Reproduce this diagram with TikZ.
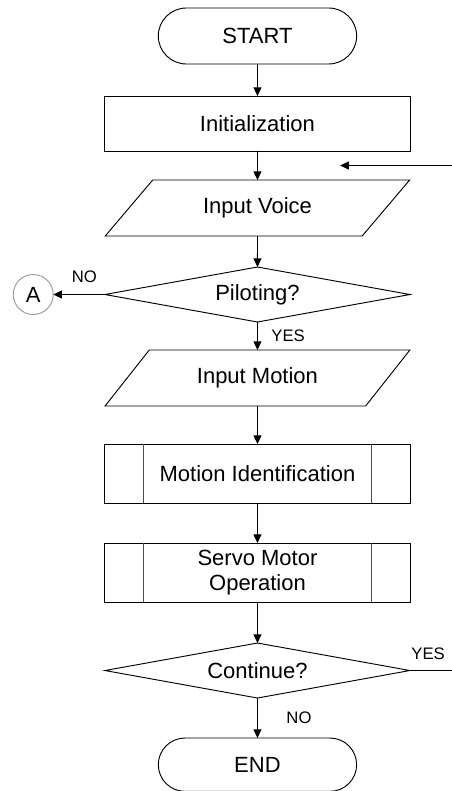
\documentclass[tikz,border=0pt]{standalone}
\usepackage{fontspec}
\setmainfont{Liberation Sans}
\usetikzlibrary{
    arrows.meta,
    calc,
    positioning,
    shapes.geometric,
    shapes.misc
}
\tikzset{
    every picture/.style = {
        > = {Triangle[length = 6.5pt, width = 6pt]},
        line width = 0.7pt
    },
    every node/.style = {
        inner sep = 1pt,
        outer sep = 0pt,
        align = center,
        font = \fontsize{16.5}{19}\selectfont
    },
    terminal/.style = {
        draw, rounded rectangle,
        minimum width = 150.75pt,
        minimum height = 42pt
    },
    process/.style = {
        draw, rectangle,
        minimum width = 228.75pt,
        minimum height = 41.25pt
    },
    io/.style = {
        draw, trapezium,
        trapezium left angle = 42.5,
        trapezium right angle = 137.5,
        trapezium stretches = true,
        minimum width = 228.75pt,
        minimum height = 42pt
    },
    decision/.style = {
        draw, diamond, aspect = 5.5,
        inner sep = 0pt,
        minimum width = 228.75pt,
        minimum height = 41.25pt
    },
    subroutine/.style = {
        process,
        minimum height = 44.25pt
    },
    connector/.style = {
        draw = black!40, circle,
        minimum size = 30pt
    },
    answer/.style = {
        font = \fontsize{12.5}{14}\selectfont
    }
}

\begin{document}
\begin{tikzpicture}
    \useasboundingbox (-193.1pt, 27pt) rectangle (145.9pt, -566.25pt);

    % main column
    \node[terminal] (start) {START};
    \node[process, below = 24pt of start] (init) {Initialization};
    \node[io, below = 21.75pt of init] (voice) {Input Voice};
    \node[decision, below = 23.25pt of voice] (pilot) {Piloting?};
    \node[io, below = 21pt of pilot] (motion) {Input Motion};
    \node[subroutine, below = 28.5pt of motion] (ident) {Motion Identification};
    \node[subroutine, below = 30pt of ident] (servo) {Servo Motor\\Operation};
    \node[decision, below = 30.75pt of servo] (cont) {Continue?};
    \node[terminal, minimum height = 40pt, below = 30pt of cont] (end) {END};

    % off-page connector
    \node[connector, left = 38.8pt of pilot] (a) {A};

    % loose ends on the right
    \coordinate (loop tip) at ($(init.south)!0.5!(voice.north) + (62pt, 0)$);
    \coordinate (loop end) at ($(init.south)!0.5!(voice.north) + (146pt, 0)$);
    \coordinate[right = 34pt of cont] (yes out);

    % sub-process bars
    \foreach \n in {ident, servo} {
        \draw[black!70] ([xshift = 29.25pt]\n.north west) -- ([xshift = 29.25pt]\n.south west);
        \draw[black!70] ([xshift = -29.25pt]\n.north east) -- ([xshift = -29.25pt]\n.south east);
    }

    \draw[->] (start) -- (init);
    \draw[->] (init) -- (voice);
    \draw[->] (voice) -- (pilot);
    \draw[->] (pilot) -- node[answer, right = 9.5pt] {YES} (motion);
    \draw[->] (pilot) -- node[answer, above = 8pt, pos = 0.4] {NO} (a);
    \draw[->] (motion) -- (ident);
    \draw[->] (ident) -- (servo);
    \draw[->] (servo) -- (cont);
    \draw[->] (cont) -- node[answer, right = 20.75pt] {NO} (end);
    \draw (cont.east) -- node[answer, above = 7pt, pos = 0.4] {YES} (yes out);
    \draw[->] (loop end) -- (loop tip);
\end{tikzpicture}
\end{document}
